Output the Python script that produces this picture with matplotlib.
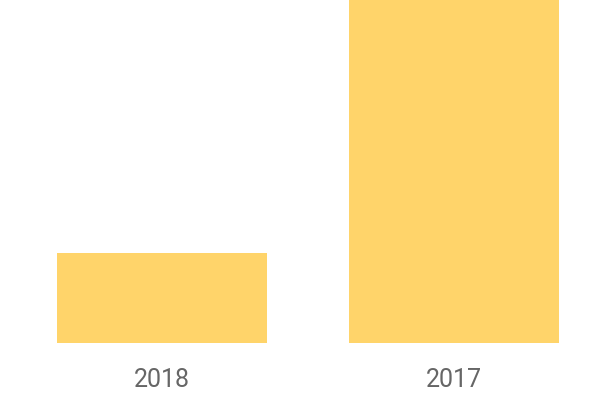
import matplotlib
matplotlib.use("Agg")
import matplotlib.pyplot as plt

# Chart data
years = ["2018", "2017"]
values = [26.3, 100]

plt.rcParams['font.family'] = ['Roboto', 'DejaVu Sans']

fig = plt.figure(figsize=(6, 4), dpi=100)
ax = fig.add_axes([16 / 600, 57 / 400, 584 / 600, 343 / 400])

ax.bar(range(len(years)), values, width=0.72, color="#FFD46A")
ax.set_xlim(-0.5, 1.5)
ax.set_ylim(0, 100)

ax.set_xticks(range(len(years)))
ax.set_xticklabels(years, fontsize=18, color="#666666")
ax.tick_params(axis="x", length=0, pad=18)
ax.set_yticks([])
for s in ax.spines.values():
    s.set_visible(False)

fig.savefig("out.png", dpi=100)
